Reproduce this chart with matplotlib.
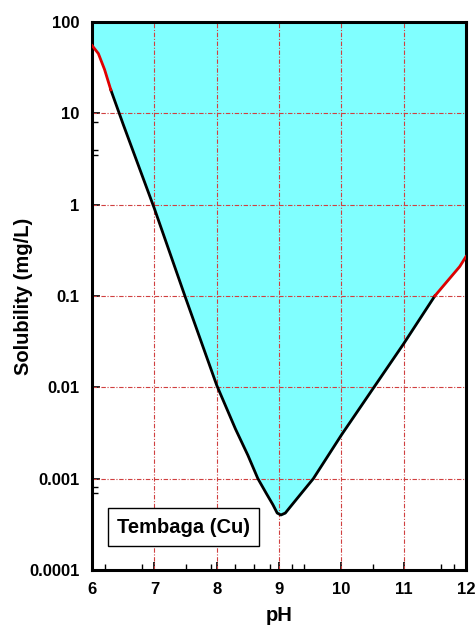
import matplotlib.pyplot as plt
import numpy as np

plt.rcParams['font.family'] = ['Liberation Sans', 'DejaVu Sans']
plt.rcParams['font.weight'] = 'bold'

# Solubility curve (mg/L) vs pH
ph = [6.0, 6.1, 6.2, 6.3, 6.5, 7.0, 7.5, 8.0, 8.3, 8.5, 8.66, 8.8, 8.9, 8.97, 9.03, 9.1, 9.2, 9.4, 9.55, 10.0, 10.5, 11.0, 11.5, 11.7, 11.9, 12.0]
sol = [55, 45, 30, 18, 7.5, 0.9, 0.095, 0.0105, 0.0035, 0.0018, 0.001, 0.00068, 0.00052, 0.00042, 0.0004, 0.00042, 0.00051, 0.00075, 0.001, 0.003, 0.0095, 0.03, 0.1, 0.145, 0.21, 0.27]
red_left = 6.3
red_right = 11.5

fig = plt.figure(figsize=(4.75, 6.26), dpi=100)
ax = fig.add_axes([0.194, 0.0895, 0.787, 0.8755])

ph = np.array(ph)
sol = np.array(sol)
ax.fill_between(ph, sol, 100, color='#80ffff', zorder=1)

for v in [7, 8, 9, 10, 11]:
    ax.axvline(v, color='#d04040', lw=0.8, ls=(0, (4, 1.5, 1, 1.5)), zorder=2)
for v in [0.001, 0.01, 0.1, 1, 10]:
    ax.axhline(v, color='#d04040', lw=0.8, ls=(0, (4, 1.5, 1, 1.5)), zorder=2)

mid = (ph >= red_left) & (ph <= red_right)
ax.plot(ph[mid], sol[mid], color='black', lw=2, zorder=3)
left = ph <= red_left
ax.plot(ph[left], sol[left], color='#e00000', lw=2, zorder=3)
right = ph >= red_right
ax.plot(ph[right], sol[right], color='#e00000', lw=2, zorder=3)

ax.set_yscale('log')
ax.set_xlim(6, 12)
ax.set_ylim(0.0001, 100)
ax.set_xticks([6, 7, 8, 9, 10, 11, 12])
ax.set_yticks([0.0001, 0.001, 0.01, 0.1, 1, 10, 100])
ax.set_yticklabels(['0.0001', '0.001', '0.01', '0.1', '1', '10', '100'])
ax.set_xticks([6.2, 6.8, 7.5, 7.9, 8.3, 8.6, 8.85, 9.2, 9.4, 10.5, 11.6, 11.8], minor=True)
ax.set_yticks([0.0008, 0.0007, 8, 4, 3.5], minor=True)
ax.yaxis.set_minor_formatter(plt.NullFormatter())
ax.tick_params(which='major', direction='in', length=6, width=1.2, labelsize=12, pad=9)
ax.tick_params(which='minor', direction='in', length=4, width=1)
for s in ax.spines.values():
    s.set_linewidth(2.2)

ax.set_xlabel('pH', fontsize=14.5, fontweight='bold', labelpad=6)
ax.set_ylabel('Solubility (mg/L)', fontsize=14.5, fontweight='bold')
ax.yaxis.set_label_coords(-0.158, 0.5)

ax.text(6.4, 0.000295, 'Tembaga (Cu)', fontsize=14.5, fontweight='bold', va='center', ha='left',
        bbox=dict(boxstyle='square,pad=0.45', fc='white', ec='black', lw=1), zorder=5)

fig.savefig('out.png', dpi=100)
